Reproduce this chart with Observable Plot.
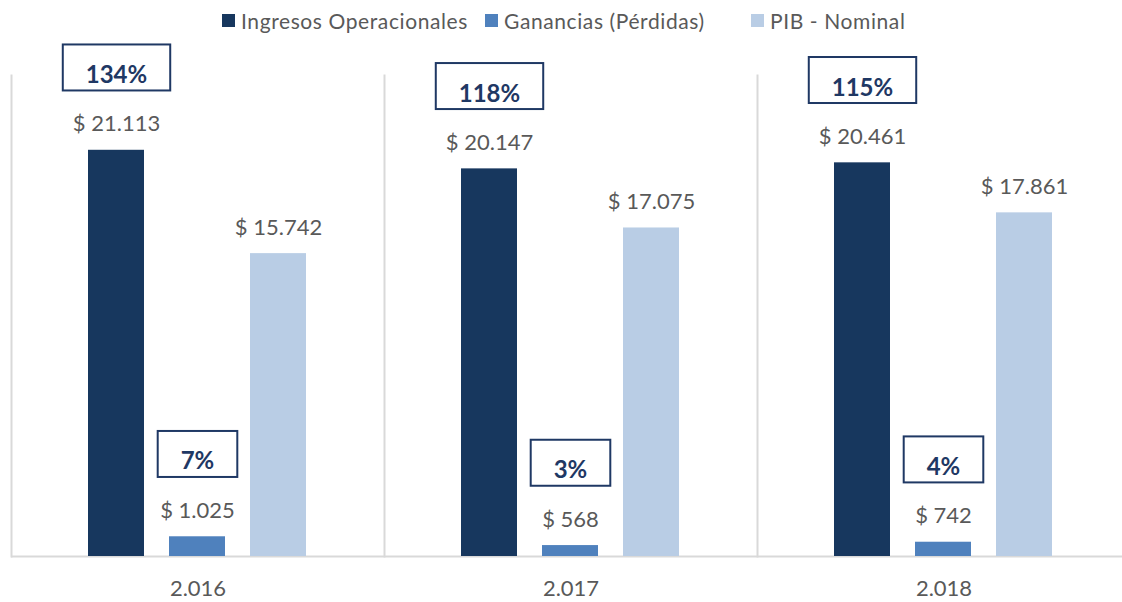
<!DOCTYPE html>
<html><head><meta charset="utf-8">
<script src="https://cdn.jsdelivr.net/npm/d3@7"></script>
<script src="https://cdn.jsdelivr.net/npm/@observablehq/plot@0.6"></script>
<style>
html,body{margin:0;padding:0;background:#fff;overflow:hidden;font-family:Lato,sans-serif;}
#legend{height:40px;display:flex;align-items:center;font-size:21px;letter-spacing:0.6px;color:#595959;padding-left:222px;box-sizing:border-box;}
#legend .item{display:flex;align-items:center;}
#legend .sw{width:13px;height:13px;margin-right:6px;flex:none;}
#chart svg{display:block;}
</style></head><body>
<div id="legend"></div>
<div id="chart"></div>
<script>
const years = ["2016", "2017", "2018"];
const yearLabels = ["2.016", "2.017", "2.018"];
const series = ["Ingresos Operacionales", "Ganancias (Pérdidas)", "PIB - Nominal"];
const ingresos = [21113, 20147, 20461];
const ganancias = [1025, 568, 742];
const pib = [15742, 17075, 17861];
const pctIngresos = ["134%", "118%", "115%"];
const pctGanancias = ["7%", "3%", "4%"];
const colors = ["#17375e", "#4f81bd", "#b9cde5"];

const locale = d3.formatLocale({decimal: ",", thousands: ".", grouping: [3], currency: ["$ ", ""]});
const fmt = locale.format(",d");

const rows = [];
const seriesValues = [ingresos, ganancias, pib];
years.forEach((y, i) => {
  series.forEach((s, j) => rows.push({year: y, serie: s, value: seriesValues[j][i]}));
});
const pctRows = [];
years.forEach((y, i) => {
  pctRows.push({year: y, serie: series[0], value: ingresos[i], pct: pctIngresos[i]});
  pctRows.push({year: y, serie: series[1], value: ganancias[i], pct: pctGanancias[i]});
});

// legend
const legendWidths = [263, 266, 190];
const legend = d3.select("#legend");
series.forEach((s, i) => {
  const it = legend.append("div").attr("class", "item").style("width", legendWidths[i] + "px");
  it.append("div").attr("class", "sw").style("background", colors[i]);
  it.append("span").text(s);
});

const chart = Plot.plot({
  width: 1122,
  height: 562,
  marginTop: 35,
  marginBottom: 46,
  marginLeft: 10,
  marginRight: -8,
  style: {fontFamily: "Lato, sans-serif", background: "white"},
  fx: {domain: years, padding: 0},
  x: {domain: series, paddingInner: 0.305, paddingOuter: 0.927, axis: null},
  y: {domain: [0, 25000], axis: null},
  color: {domain: series, range: colors},
  marks: [
    Plot.frame({anchor: "left", stroke: "#d9d9d9", strokeWidth: 2}),
    Plot.ruleY([0], {stroke: "#d9d9d9", strokeWidth: 2}),
    Plot.barY(rows, {fx: "year", x: "serie", y: "value", fill: "serie"}),
    Plot.text(rows, {fx: "year", x: "serie", y: "value", text: d => "$ " + fmt(d.value), dy: -26, fontSize: 22, fill: "#595959"}),
    Plot.text(pctRows, {fx: "year", x: "serie", y: "value", text: "pct", dy: -75, fontSize: 24, fontWeight: "bold", fill: "#1f3864"}),
    Plot.axisFx({anchor: "bottom", label: null, tickSize: 0, tickPadding: 24, fontSize: 22, fill: "#595959",
      tickFormat: d => yearLabels[years.indexOf(d)]})
  ]
});
document.getElementById("chart").append(chart);

// boxes around the percentage labels
chart.querySelectorAll("text").forEach(t => {
  if (!/%$/.test(t.textContent)) return;
  const b = t.getBBox();
  const cy = b.y + b.height / 2;
  const r = document.createElementNS("http://www.w3.org/2000/svg", "rect");
  r.setAttribute("x", b.x - 23);
  r.setAttribute("width", b.width + 46);
  r.setAttribute("y", cy - 29);
  r.setAttribute("height", 46);
  r.setAttribute("fill", "white");
  r.setAttribute("stroke", "#1f3864");
  r.setAttribute("stroke-width", 2);
  const tr = t.getAttribute("transform");
  if (tr) r.setAttribute("transform", tr);
  t.parentNode.insertBefore(r, t);
});
</script>
</body></html>
